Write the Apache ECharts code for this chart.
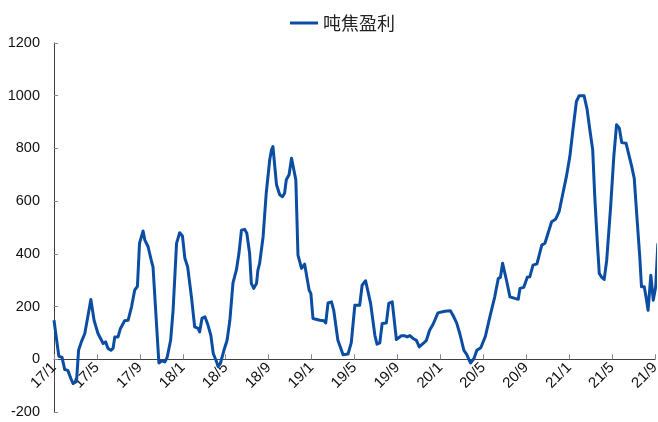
<!DOCTYPE html>
<html>
<head>
<meta charset="utf-8">
<script src="https://cdn.jsdelivr.net/npm/echarts@6/dist/echarts.min.js"></script>
<style>
  html, body { margin: 0; padding: 0; background: #fff; }
  #chart { width: 658px; height: 422px; }
</style>
</head>
<body>
<div id="chart"></div>
<script>
// 吨焦盈利（元/吨），2017-01 至 2021-09
const seriesName = '吨焦盈利';

const dates = [
  '2017-01-01','2017-01-15','2017-01-24','2017-02-01','2017-02-09','2017-02-17','2017-02-23','2017-02-27',
  '2017-03-04','2017-03-10','2017-03-18','2017-03-28','2017-04-04','2017-04-14','2017-04-23','2017-05-04',
  '2017-05-19','2017-05-26','2017-06-02','2017-06-10','2017-06-16','2017-06-21','2017-06-30','2017-07-07',
  '2017-07-19','2017-07-29','2017-08-08','2017-08-17','2017-08-25','2017-08-31','2017-09-10','2017-09-15',
  '2017-09-24','2017-10-04','2017-10-08','2017-10-25','2017-11-03','2017-11-11','2017-11-17','2017-11-27',
  '2017-12-04','2017-12-14','2017-12-23','2017-12-31','2018-01-07','2018-01-15','2018-01-26','2018-02-04',
  '2018-02-13','2018-02-17','2018-02-23','2018-03-03','2018-03-12','2018-03-20','2018-03-27','2018-04-03',
  '2018-04-10','2018-04-16','2018-04-26','2018-05-05','2018-05-13','2018-05-22','2018-06-01','2018-06-08',
  '2018-06-15','2018-06-24','2018-06-30','2018-07-08','2018-07-13','2018-07-20','2018-07-28','2018-08-01',
  '2018-08-06','2018-08-16','2018-08-25','2018-09-04','2018-09-09','2018-09-13','2018-09-18','2018-09-23',
  '2018-10-02','2018-10-10','2018-10-16','2018-10-21','2018-10-29','2018-11-05','2018-11-09','2018-11-17',
  '2018-11-23','2018-12-03','2018-12-12','2018-12-25','2018-12-30','2019-01-05','2019-01-25','2019-02-05',
  '2019-02-10','2019-02-16','2019-02-25','2019-03-03','2019-03-15','2019-03-30','2019-04-13','2019-04-22',
  '2019-05-02','2019-05-16','2019-05-23','2019-06-02','2019-06-07','2019-06-16','2019-06-28','2019-07-04',
  '2019-07-12','2019-07-19','2019-07-31','2019-08-07','2019-08-17','2019-08-29','2019-09-12','2019-09-22',
  '2019-09-28','2019-10-06','2019-10-15','2019-10-25','2019-11-02','2019-11-13','2019-11-22','2019-12-01',
  '2019-12-11','2019-12-25','2020-01-14','2020-01-30','2020-02-06','2020-02-16','2020-02-25','2020-03-07',
  '2020-03-15','2020-03-26','2020-04-05','2020-04-13','2020-04-24','2020-05-07','2020-05-20','2020-06-03',
  '2020-06-13','2020-06-19','2020-06-25','2020-07-06','2020-07-16','2020-07-30','2020-08-09','2020-08-14',
  '2020-08-25','2020-09-04','2020-09-11','2020-09-20','2020-10-01','2020-10-15','2020-10-24','2020-11-02',
  '2020-11-12','2020-11-23','2020-12-03','2020-12-14','2020-12-24','2021-01-03','2021-01-12','2021-01-22',
  '2021-01-30','2021-02-12','2021-02-20','2021-02-27','2021-03-07','2021-03-13','2021-03-20','2021-03-26',
  '2021-04-02','2021-04-09','2021-04-16','2021-04-27','2021-05-06','2021-05-14','2021-05-22','2021-05-29',
  '2021-06-10','2021-06-13','2021-06-26','2021-07-03','2021-07-10','2021-07-19','2021-07-24','2021-08-01',
  '2021-08-06','2021-08-12','2021-08-20','2021-08-27','2021-09-03','2021-09-09'
];

const profit = [
  148, 11, 8, -39, -42, -73, -92, -96,
  -84, 34, 66, 98, 150, 227, 148, 98,
  60, 66, 41, 34, 41, 85, 85, 117,
  146, 148, 199, 262, 277, 440, 487, 452,
  427, 370, 351, -14, -6, -10, 6, 72,
  186, 440, 480, 468, 383, 351, 237, 123,
  117, 104, 155, 161, 129, 91, 22, -1,
  -27, -16, 34, 72, 148, 290, 340, 402,
  490, 493, 478, 402, 288, 269, 288, 338,
  364, 465, 630, 757, 795, 807, 807, 662,
  624, 617, 630, 681, 700, 763, 757, 681,
  395, 345, 361, 262, 250, 155, 148, 146,
  138, 214, 218, 186, 72, 17, 20, 63,
  205, 205, 281, 298, 294, 212, 91, 57,
  62, 136, 138, 212, 218, 75, 89, 89,
  85, 90, 79, 72, 47, 60, 72, 110,
  133, 176, 182, 184, 167, 138, 95, 34,
  19, -14, 3, 34, 44, 87, 161, 237,
  307, 311, 364, 300, 237, 231, 228, 269,
  273, 311, 313, 357, 362, 433, 440, 478,
  522, 531, 560, 630, 693, 769, 871, 978,
  1000, 1000, 947, 871, 795, 617, 452, 326,
  311, 303, 376, 579, 769, 890, 877, 822,
  820, 814, 731, 687, 554, 389, 275, 275,
  237, 186, 319, 224, 275, 440
];

// x 轴刻度：每 4 个月一个
const tickLabels = ['17/1','17/5','17/9','18/1','18/5','18/9','19/1','19/5','19/9','20/1','20/5','20/9','21/1','21/5','21/9'];
const yMin = -200, yMax = 1200, yStep = 200;

// 日期 -> 自 2017-01 起的月数（含月内比例）
function monthOffset(s) {
  const [y, m, d] = s.split('-').map(Number);
  const dim = new Date(y, m, 0).getDate();
  return (y - 2017) * 12 + (m - 1) + (d - 1) / dim;
}

const points = dates.map((d, i) => [monthOffset(d), profit[i]]);

const W = 658, H = 422;
const grid = { left: 54, right: 3, top: 43, bottom: 10 };
// x 轴放在 0 值处（含刻度标签）
const plotH = H - grid.top - grid.bottom;
const zeroOffset = -plotH * (0 - yMin) / (yMax - yMin);

const chart = echarts.init(document.getElementById('chart'), null, { renderer: 'canvas' });
const axisColor = '#404040';
const labelFont = '"Liberation Sans", Arial, sans-serif';

chart.setOption({
  animation: false,
  backgroundColor: '#ffffff',
  legend: {
    data: [{ name: seriesName, icon: 'rect' }],
    left: 285,
    top: 9,
    itemWidth: 28,
    itemHeight: 3,
    textStyle: {
      fontFamily: '"Noto Sans CJK SC", sans-serif',
      fontSize: 18,
      color: '#222'
    }
  },
  grid: Object.assign({ containLabel: false, outerBoundsMode: 'none' }, grid),
  xAxis: {
    type: 'value',
    min: 0,
    max: (tickLabels.length - 1) * 4,
    interval: 4,
    position: 'bottom',
    offset: zeroOffset,
    splitLine: { show: false },
    axisLine: { onZero: false, lineStyle: { color: axisColor, width: 1 } },
    axisTick: { inside: true, length: 5, lineStyle: { color: '#888' } },
    axisLabel: {
      rotate: 45,
      margin: 6,
      fontSize: 15,
      fontFamily: labelFont,
      color: '#111',
      formatter: v => tickLabels[Math.round(v / 4)] || ''
    }
  },
  yAxis: {
    type: 'value',
    min: yMin,
    max: yMax,
    interval: yStep,
    splitLine: { show: false },
    axisLine: { show: true, lineStyle: { color: axisColor, width: 1 } },
    axisTick: { show: true, inside: true, length: 4, lineStyle: { color: '#888' } },
    axisLabel: {
      margin: 14,
      fontSize: 14.5,
      fontFamily: labelFont,
      color: '#111',
      formatter: v => String(v)
    }
  },
  series: [{
    name: seriesName,
    type: 'line',
    data: points,
    showSymbol: false,
    clip: false,
    color: '#0B4DA2',
    lineStyle: { width: 3, color: '#0B4DA2', join: 'round' }
  }]
});
</script>
</body>
</html>
